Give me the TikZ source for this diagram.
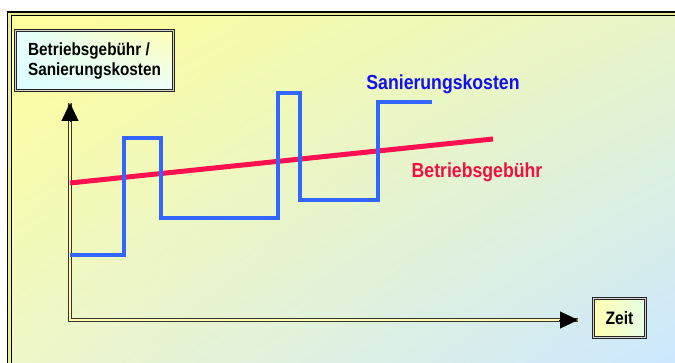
\documentclass[tikz,border=0pt]{standalone}
\usepackage{fontspec}
\setmainfont{Liberation Sans}
\newfontfamily\chartfont[FakeStretch=0.87]{Liberation Sans}
\usepackage{tikz}
\usetikzlibrary{positioning,arrows.meta,shadings}
\definecolor{bgyellow}{RGB}{255,255,153}
\definecolor{bggreen}{RGB}{232,245,200}
\definecolor{bgpale}{RGB}{238,247,200}
\definecolor{bgcyan}{RGB}{204,232,255}
\definecolor{framegold}{RGB}{236,236,140}
\definecolor{costblue}{RGB}{51,102,255}
\definecolor{costtext}{RGB}{16,16,240}
\definecolor{feered}{RGB}{255,16,80}
\definecolor{feetext}{RGB}{240,16,64}
\tikzset{
    frame line/.style={draw=black, double=framegold, line width=1.4pt, double distance=2.2pt},
    label box/.style={rectangle, font=\chartfont\bfseries\fontsize{17.6}{20}\selectfont,
        align=left, inner sep=2pt},
    box frame/.style={draw=black!85, double=white!65!gray, line width=0.9pt, double distance=1.2pt},
    axis line/.style={draw=black!80!olive, double=white!70!yellow, line width=1pt, double distance=1.1pt},
    axis tip/.style={-{Triangle[length=18pt, width=17pt]}, line width=0.2pt, black},
    cost line/.style={costblue, line width=3.5pt},
    fee line/.style={feered, line width=5pt},
    curve label/.style={font=\chartfont\bfseries\fontsize{20.3}{22}\selectfont}
}

\begin{document}
\begin{tikzpicture}[x=1pt, y=1pt]
    \clip (0,0) rectangle (675,363);
    % Background and frame
    \shade[upper left=bgyellow, upper right=bggreen, lower left=bgpale, lower right=bgcyan]
        (9.5,0) rectangle (675,349);
    \draw[frame line] (9.5,-20) rectangle (700,349);

    % Axes
    \coordinate (origin) at (70,43);
    \coordinate (ytop) at (70,260);
    \coordinate (xend) at (578,43);
    \draw[axis line] (ytop) -- (origin) -- (xend);
    \draw[axis tip] ([yshift=-19pt]ytop) -- (ytop);
    \draw[axis tip] ([xshift=-19pt]xend) -- (xend);

    % Axis labels
    \node[label box, lower left=cyan!14!white, upper left=cyan!10!white,
        lower right=yellow!12!cyan!8!white, upper right=yellow!30!white,
        minimum width=157pt, minimum height=59pt] (ylabel) at (94.5,302.5)
        {Betriebsgeb\"uhr /\\Sanierungskosten};
    \draw[box frame] (ylabel.south west) rectangle (ylabel.north east);
    \node[label box, left color=yellow!30!white, right color=green!10!white,
        font=\chartfont\bfseries\fontsize{18}{20}\selectfont,
        minimum width=51pt, minimum height=38pt] (xlabel) at (619.5,45) {Zeit};
    \draw[box frame] (xlabel.south west) rectangle (xlabel.north east);

    % Curves
    \draw[fee line] (70,180) -- (493,224);
    \draw[cost line] (70,108) -- (124,108) -- (124,225) -- (161,225) -- (161,145)
        -- (278,145) -- (278,270) -- (300,270) -- (300,163) -- (378,163)
        -- (378,261) -- (432,261);

    % Curve labels
    \node[curve label, text=costtext] (costlabel) at (443,279) {Sanierungskosten};
    \node[curve label, text=feetext] (feelabel) at (477,191) {Betriebsgeb\"uhr};
\end{tikzpicture}
\end{document}
